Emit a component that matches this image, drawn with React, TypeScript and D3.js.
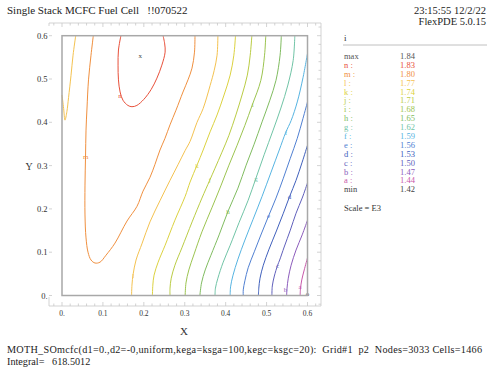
import * as d3 from "d3";

type P = [number, number];

const W = 487;
const H = 367;

const xTickValues = [0, 0.1, 0.2, 0.3, 0.4, 0.5, 0.6];
const yTickValues = [0, 0.1, 0.2, 0.3, 0.4, 0.5, 0.6];

const legendNames = ["max", "n :", "m :", "l :", "k :", "j :", "i :", "h :", "g :", "f :", "e :", "d :", "c :", "b :", "a :", "min"];
const legendValues = ["1.84", "1.83", "1.80", "1.77", "1.74", "1.71", "1.68", "1.65", "1.62", "1.59", "1.56", "1.53", "1.50", "1.47", "1.44", "1.42"];

// contour lines (x, y in domain units)
const contourN: P[] = [[0.144, 0.6], [0.138, 0.567], [0.137, 0.532], [0.138, 0.498], [0.142, 0.470], [0.149, 0.451], [0.161, 0.439], [0.171, 0.436], [0.183, 0.439], [0.200, 0.453], [0.218, 0.476], [0.232, 0.502], [0.244, 0.532], [0.252, 0.562], [0.251, 0.581], [0.247, 0.6]];
const contourM: P[] = [[0.0765, 0.6], [0.0709, 0.555], [0.0648, 0.498], [0.0611, 0.433], [0.0587, 0.382], [0.0575, 0.320], [0.0562, 0.255], [0.0562, 0.186], [0.0587, 0.133], [0.0636, 0.100], [0.0709, 0.082], [0.0807, 0.075], [0.0929, 0.077], [0.1075, 0.093], [0.1295, 0.121], [0.1589, 0.172], [0.1833, 0.206], [0.1980, 0.241], [0.2151, 0.273], [0.2273, 0.303], [0.2395, 0.336], [0.2517, 0.363], [0.2639, 0.394], [0.2786, 0.428], [0.2957, 0.470], [0.3079, 0.498], [0.3177, 0.525], [0.3238, 0.562], [0.3250, 0.6]];
const contourL: P[] = [[0.381, 0.6], [0.379, 0.555], [0.372, 0.520], [0.362, 0.485], [0.345, 0.432], [0.330, 0.400], [0.313, 0.356], [0.301, 0.335], [0.284, 0.303], [0.264, 0.266], [0.240, 0.220], [0.215, 0.170], [0.196, 0.121], [0.181, 0.082], [0.174, 0.050], [0.171, 0.024], [0.170, 0]];
const contourL2: P[] = [[0, 0.463], [0.004, 0.432], [0.0073, 0.405], [0.012, 0.425], [0.016, 0.457], [0.022, 0.508], [0.027, 0.555], [0.0335, 0.6]];
const contourK: P[] = [[0.424, 0.6], [0.420, 0.555], [0.411, 0.509], [0.396, 0.463], [0.379, 0.417], [0.362, 0.378], [0.345, 0.336], [0.330, 0.301], [0.313, 0.262], [0.301, 0.229], [0.276, 0.174], [0.252, 0.116], [0.235, 0.077], [0.225, 0.047], [0.222, 0.024], [0.221, 0]];
const contourJ: P[] = [[0.464, 0.6], [0.460, 0.555], [0.453, 0.509], [0.440, 0.463], [0.425, 0.417], [0.408, 0.370], [0.391, 0.331], [0.374, 0.294], [0.361, 0.266], [0.342, 0.225], [0.318, 0.170], [0.293, 0.110], [0.276, 0.070], [0.267, 0.040], [0.264, 0.017], [0.264, 0]];
const contourI: P[] = [[0.498, 0.6], [0.495, 0.555], [0.486, 0.497], [0.465, 0.440], [0.447, 0.393], [0.428, 0.347], [0.408, 0.301], [0.389, 0.255], [0.367, 0.204], [0.342, 0.147], [0.323, 0.096], [0.310, 0.059], [0.303, 0.029], [0.301, 0]];
const contourH: P[] = [[0.536, 0.6], [0.533, 0.555], [0.523, 0.497], [0.508, 0.451], [0.489, 0.401], [0.469, 0.348], [0.450, 0.301], [0.430, 0.248], [0.406, 0.195], [0.384, 0.140], [0.364, 0.093], [0.350, 0.059], [0.341, 0.029], [0.337, 0]];
const contourG: P[] = [[0.569, 0.6], [0.565, 0.543], [0.552, 0.486], [0.535, 0.433], [0.516, 0.382], [0.494, 0.325], [0.474, 0.271], [0.455, 0.220], [0.433, 0.169], [0.411, 0.116], [0.394, 0.077], [0.381, 0.040], [0.375, 0.017], [0.374, 0]];
const contourF: P[] = [[0.6, 0.559], [0.589, 0.503], [0.575, 0.447], [0.560, 0.404], [0.547, 0.377], [0.531, 0.336], [0.511, 0.285], [0.489, 0.229], [0.467, 0.176], [0.447, 0.128], [0.430, 0.084], [0.418, 0.047], [0.412, 0.020], [0.411, 0]];
const contourE: P[] = [[0.6, 0.447], [0.589, 0.409], [0.575, 0.363], [0.558, 0.317], [0.541, 0.271], [0.523, 0.225], [0.505, 0.184], [0.487, 0.142], [0.470, 0.101], [0.455, 0.064], [0.447, 0.034], [0.443, 0.013], [0.443, 0]];
const contourD: P[] = [[0.6, 0.347], [0.587, 0.308], [0.572, 0.266], [0.556, 0.228], [0.541, 0.190], [0.524, 0.149], [0.506, 0.107], [0.492, 0.070], [0.484, 0.040], [0.481, 0.017], [0.480, 0]];
const contourC: P[] = [[0.6, 0.260], [0.587, 0.225], [0.572, 0.190], [0.558, 0.151], [0.543, 0.112], [0.532, 0.082], [0.527, 0.070], [0.519, 0.045], [0.514, 0.022], [0.513, 0]];
const contourB: P[] = [[0.6, 0.174], [0.587, 0.140], [0.572, 0.105], [0.560, 0.070], [0.553, 0.040], [0.550, 0.017], [0.549, 0]];
const contourA: P[] = [[0.6, 0.087], [0.592, 0.059], [0.586, 0.036], [0.583, 0.017], [0.582, 0]];

const labelN: P = [0.142, 0.461];
const labelM: P = [0.058, 0.320];
const labelL: P = [0.174, 0.047];
const labelK: P = [0.330, 0.301];
const labelJ: P = [0.361, 0.267];
const labelI: P = [0.466, 0.441];
const labelH: P = [0.406, 0.195];
const labelG: P = [0.474, 0.271];
const labelF: P = [0.547, 0.377];
const labelE: P = [0.505, 0.184];
const labelD: P = [0.556, 0.228];
const labelC: P = [0.527, 0.070];
const labelB: P = [0.546, 0.013];
const labelA: P = [0.582, 0.020];

const maxPoint: P = [0.191, 0.554];
const minPoint: P = [0.6, 0.004];

const COLORS: Record<string, string> = {
  max: "#555555",
  n: "#e8503a",
  m: "#f0903f",
  l: "#f4c250",
  k: "#dcd240",
  j: "#bacc44",
  i: "#9cc450",
  h: "#80bc60",
  g: "#70c4a6",
  f: "#56b4e2",
  e: "#5080d2",
  d: "#4060bc",
  c: "#6060bc",
  b: "#8c5cbc",
  a: "#c858aa",
  min: "#444444",
};

const lines = [
  { key: "n", pts: contourN },
  { key: "m", pts: contourM },
  { key: "l", pts: contourL },
  { key: "l", pts: contourL2 },
  { key: "k", pts: contourK },
  { key: "j", pts: contourJ },
  { key: "i", pts: contourI },
  { key: "h", pts: contourH },
  { key: "g", pts: contourG },
  { key: "f", pts: contourF },
  { key: "e", pts: contourE },
  { key: "d", pts: contourD },
  { key: "c", pts: contourC },
  { key: "b", pts: contourB },
  { key: "a", pts: contourA },
];

const labels = [
  { key: "n", p: labelN }, { key: "m", p: labelM }, { key: "l", p: labelL },
  { key: "k", p: labelK }, { key: "j", p: labelJ }, { key: "i", p: labelI },
  { key: "h", p: labelH }, { key: "g", p: labelG }, { key: "f", p: labelF },
  { key: "e", p: labelE }, { key: "d", p: labelD }, { key: "c", p: labelC },
  { key: "b", p: labelB }, { key: "a", p: labelA },
];

const FONT = "'Liberation Serif', 'Times New Roman', serif";

export default function App() {
  const x = d3.scaleLinear().domain([0, 0.6]).range([62, 307.5]);
  const y = d3.scaleLinear().domain([0, 0.6]).range([295.5, 35.7]);
  const line = d3.line<P>()
    .x(d => x(d[0]))
    .y(d => y(d[1]))
    .curve(d3.curveCatmullRom.alpha(0.5));

  const fmt = (v: number) => (v === 0 ? "0." : d3.format(".1f")(v));

  // frame minor ticks every 0.02
  const fxTicks = d3.range(-0.02, 0.63, 0.02);
  const fyTicks = d3.range(-0.02, 0.63, 0.02);
  const isMajor = (v: number) => Math.abs(v * 10 - Math.round(v * 10)) < 1e-6;
  const frameTop = 23;
  const frameBottom = 306;
  const frameLeft = 49;
  const frameRight = 321;

  const legendY = (i: number) => 59 + i * 8.89;

  return (
    <svg width={W} height={H} style={{ position: "absolute", left: 0, top: 0, background: "#fff" }} fontFamily={FONT}>
      {/* header */}
      <text x={7} y={14} fontSize={11} fill="#222">Single Stack MCFC Fuel Cell{"\u00a0\u00a0\u00a0"}!!070522</text>
      <text x={486} y={14} fontSize={10.5} textAnchor="end" fill="#222">23:15:55 12/2/22</text>
      <text x={486} y={25} fontSize={10.5} textAnchor="end" fill="#222">FlexPDE 5.0.15</text>

      {/* outer tick frame */}
      <g stroke="#c8c8c8" strokeWidth={0.8} fill="none">
        <line x1={frameLeft} x2={frameRight} y1={frameTop} y2={frameTop} />
        <line x1={frameLeft} x2={frameRight} y1={frameBottom} y2={frameBottom} />
        <line x1={frameRight} x2={frameRight} y1={frameTop} y2={frameBottom} />
        {fxTicks.filter(v => x(v) > frameLeft - 0.5 && x(v) < frameRight).map((v, i) => (
          <g key={"tx" + i}>
            <line x1={x(v)} x2={x(v)} y1={frameTop} y2={frameTop + (isMajor(v) ? 4 : 2.5)} />
            <line x1={x(v)} x2={x(v)} y1={frameBottom} y2={frameBottom - (isMajor(v) ? 4 : 2.5)} />
          </g>
        ))}
        {fyTicks.filter(v => y(v) > frameTop && y(v) < frameBottom).map((v, i) => (
          <line key={"ty" + i} x1={frameRight} x2={frameRight - (isMajor(v) ? 4 : 2.5)} y1={y(v)} y2={y(v)} />
        ))}
        <line x1={frameLeft} x2={frameLeft} y1={frameTop} y2={frameTop + 3} />
        <line x1={frameLeft} x2={frameLeft} y1={frameBottom} y2={frameBottom - 9} />
        {yTickValues.map(v => (
          <line key={"yl" + v} x1={frameLeft} x2={frameLeft + 3} y1={y(v)} y2={y(v)} />
        ))}
      </g>

      {/* axis labels */}
      {yTickValues.map(v => (
        <text key={"ylab" + v} x={47.5} y={y(v) + 3} fontSize={8.5} textAnchor="end" fill="#333">{fmt(v)}</text>
      ))}
      {xTickValues.map(v => (
        <text key={"xlab" + v} x={x(v)} y={316} fontSize={7.5} textAnchor="middle" fill="#333">{fmt(v)}</text>
      ))}
      <text x={29} y={170} fontSize={10} textAnchor="middle" fill="#333">Y</text>
      <text x={184} y={335} fontSize={11} textAnchor="middle" fill="#333">X</text>

      {/* contours */}
      <g fill="none" strokeWidth={1}>
        {lines.map((l, i) => (
          <path key={"c" + i} d={line(l.pts) || ""} stroke={COLORS[l.key]} />
        ))}
      </g>
      {labels.map(l => (
        <text key={"lab" + l.key} x={x(l.p[0])} y={y(l.p[1]) + 2.5} fontSize={7} textAnchor="middle" fill={COLORS[l.key]}>{l.key}</text>
      ))}
      <text x={x(maxPoint[0])} y={y(maxPoint[1]) + 2} fontSize={7} textAnchor="middle" fill="#444">x</text>
      <text x={x(minPoint[0])} y={y(minPoint[1]) + 2} fontSize={7} textAnchor="middle" fill="#444">o</text>

      {/* domain boundary */}
      <rect x={x(0)} y={y(0.6)} width={x(0.6) - x(0)} height={y(0) - y(0.6)} fill="none" stroke="#a8a8a8" strokeWidth={1.5} />

      {/* legend */}
      <text x={344} y={41} fontSize={9} fill="#333">i</text>
      <line x1={343} x2={487} y1={45} y2={45} stroke="#c0c0c0" strokeWidth={1} />
      {legendNames.map((n, i) => {
        const key = n.replace(" :", "");
        return (
          <g key={"leg" + i} fontSize={8.5} fill={COLORS[key]}>
            <text x={344} y={legendY(i)}>{n}</text>
            <text x={400} y={legendY(i)}>{legendValues[i]}</text>
          </g>
        );
      })}
      <text x={344} y={211} fontSize={8.5} fill="#333">Scale = E3</text>

      {/* footer */}
      <text x={7} y={353} fontSize={10.2} fill="#222" textLength={475} lengthAdjust="spacing" style={{ whiteSpace: "pre" }}>MOTH_SOmcfc(d1=0.,d2=-0,uniform,kega=ksga=100,kegc=ksgc=20):  Grid#1  p2  Nodes=3033 Cells=1466</text>
      <text x={7} y={364.5} fontSize={10.2} fill="#222" style={{ whiteSpace: "pre" }}>Integral=   618.5012</text>
    </svg>
  );
}
